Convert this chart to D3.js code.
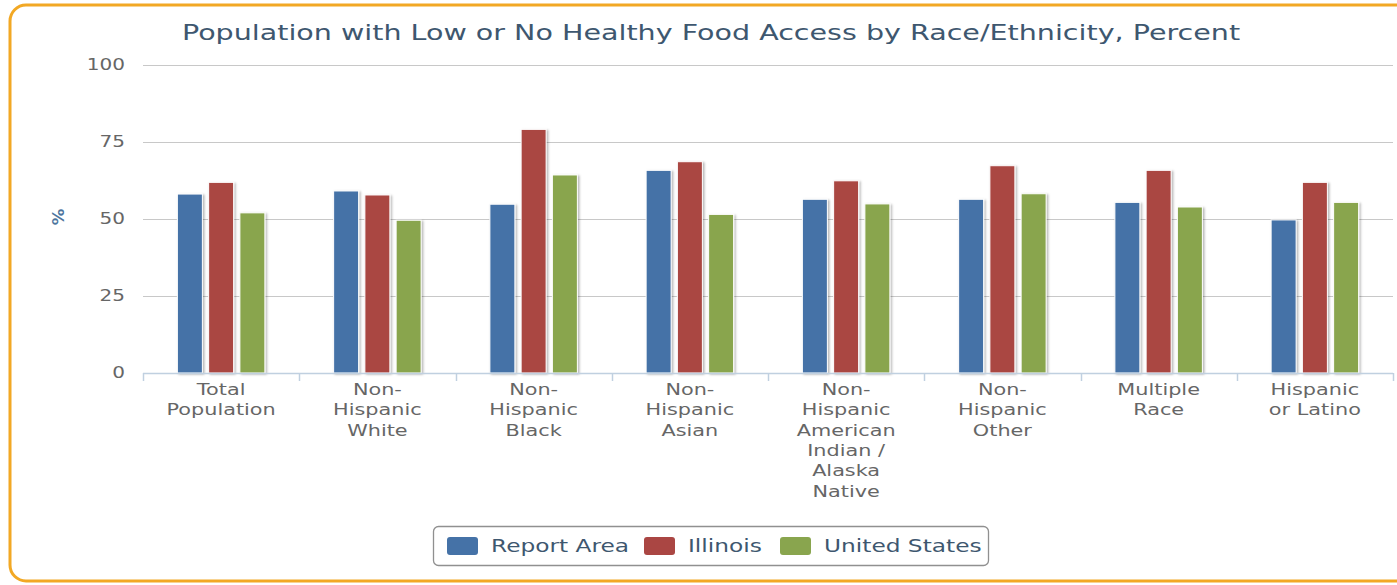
<!DOCTYPE html>
<html>
<head>
<meta charset="utf-8">
<script src="https://cdn.jsdelivr.net/npm/d3@7"></script>
<style>
  html, body { margin: 0; padding: 0; background: #fff; }
  svg { display: block; font-family: "DejaVu Sans", Verdana, sans-serif; }
</style>
</head>
<body>
<svg id="chart" width="1397" height="585"></svg>
<script>
/******************************************************************************/
/** data */

var title = 'Population with Low or No Healthy Food Access by Race/Ethnicity, Percent';
var categories = ['Total Population', 'Non-Hispanic White', 'Non-Hispanic Black', 'Non-Hispanic Asian',
  'Non-Hispanic American Indian / Alaska Native', 'Non-Hispanic Other', 'Multiple Race', 'Hispanic or Latino'];
var categoryLines = [
  ['Total', 'Population'],
  ['Non-', 'Hispanic', 'White'],
  ['Non-', 'Hispanic', 'Black'],
  ['Non-', 'Hispanic', 'Asian'],
  ['Non-', 'Hispanic', 'American', 'Indian /', 'Alaska', 'Native'],
  ['Non-', 'Hispanic', 'Other'],
  ['Multiple', 'Race'],
  ['Hispanic', 'or Latino']
];
var seriesNames = ['Report Area', 'Illinois', 'United States'];
var seriesColors = ['#4572A7', '#AA4643', '#89A54E'];
var reportArea   = [58.1, 59.1, 54.8, 65.8, 56.4, 56.4, 55.4, 49.7];
var illinois     = [61.9, 57.8, 79.1, 68.6, 62.4, 67.3, 65.8, 61.9];
var unitedStates = [52.0, 49.6, 64.3, 51.5, 54.9, 58.2, 53.9, 55.4];
var yTicks = [0, 25, 50, 75, 100];

var series = [reportArea, illinois, unitedStates];

/******************************************************************************/
/** layout */

var plot = { left: 143, right: 1393, top: 65, bottom: 373 };

var svg = d3.select('#chart');

var defs = svg.append('defs');
var f = defs.append('filter').attr('id', 'shadow').attr('x', '-20%').attr('y', '-5%').attr('width', '150%').attr('height', '110%');
f.append('feDropShadow').attr('dx', 1.5).attr('dy', 1).attr('stdDeviation', 1.2).attr('flood-color', '#000').attr('flood-opacity', 0.3);

// the screenshot is stretched sideways, so text gets a horizontal scale too
function stext(g, x, y, str, sx){
  return g.append('text').attr('transform', 'translate(' + x + ',' + y + ') scale(' + sx + ',1)').text(str);
}

// outer orange frame
svg.append('rect')
  .attr('x', 10).attr('y', 5).attr('width', 1440).attr('height', 576)
  .attr('rx', 16).attr('ry', 16)
  .style('fill', '#fff').style('stroke', '#F2A824').style('stroke-width', 3);

// title
stext(svg, 711, 40, title, 1.36)
  .attr('text-anchor', 'middle').style('font-size', '21px').style('fill', '#3E576F');

/******************************************************************************/
/** scales */

var x0 = d3.scaleBand().domain(d3.range(categories.length)).range([plot.left, plot.right]);
var bw = x0.bandwidth();
var x1 = d3.scaleBand().domain(d3.range(series.length))
  .range([0.2 * bw, 0.8 * bw]).paddingInner(0.2).paddingOuter(0.1);
var y = d3.scaleLinear().domain([0, 100]).range([plot.bottom, plot.top]);

// grid
var grid = svg.append('g');
grid.selectAll('line').data(yTicks.filter(function(d){ return d > 0; })).enter().append('line')
  .attr('x1', plot.left).attr('x2', plot.right)
  .attr('y1', function(d){ return Math.round(y(d)) + 0.5; }).attr('y2', function(d){ return Math.round(y(d)) + 0.5; })
  .style('stroke', '#C8C8C8').style('stroke-width', 1.2);

// y labels
var yl = svg.append('g').style('font-size', '16px').style('fill', '#666');
yTicks.forEach(function(t){
  stext(yl, 125, y(t) + 5, t, 1.25).attr('text-anchor', 'end');
});

// y title
svg.append('text').attr('transform', 'translate(64,217) rotate(-90) scale(1.1,1)')
  .attr('text-anchor', 'middle').style('font-size', '15px').style('font-weight', 'bold').style('fill', '#4d759e').text('%');

/******************************************************************************/
/** bars */

var groups = svg.selectAll('g.cat').data(categories).enter().append('g').attr('class', 'cat')
  .attr('transform', function(d, i){ return 'translate(' + x0(i) + ',0)'; });

groups.selectAll('rect').data(function(d, i){ return series.map(function(s, j){ return { s: j, v: s[i] }; }); })
  .enter().append('rect')
  .attr('x', function(d){ return x1(d.s); })
  .attr('width', x1.bandwidth())
  .attr('y', function(d){ return y(d.v); })
  .attr('height', function(d){ return plot.bottom - y(d.v); })
  .attr('filter', 'url(#shadow)')
  .style('fill', function(d){ return seriesColors[d.s]; })
  .style('stroke', '#fff').style('stroke-width', 1);

// x axis line + ticks
svg.append('line').attr('x1', plot.left).attr('x2', plot.right).attr('y1', plot.bottom + 0.5).attr('y2', plot.bottom + 0.5)
  .style('stroke', '#C0D0E0').style('stroke-width', 1.5);
svg.append('g').selectAll('line').data(d3.range(categories.length + 1)).enter().append('line')
  .attr('x1', function(i){ return Math.round(plot.left + i * bw) + 0.5; })
  .attr('x2', function(i){ return Math.round(plot.left + i * bw) + 0.5; })
  .attr('y1', plot.bottom).attr('y2', plot.bottom + 8)
  .style('stroke', '#C0D0E0').style('stroke-width', 1.5);

// x labels
var xl = svg.append('g').style('font-size', '16px').style('fill', '#666');
categoryLines.forEach(function(lines, i){
  lines.forEach(function(l, k){
    stext(xl, x0(i) + bw / 2, 395 + k * 20.3, l, 1.3).attr('text-anchor', 'middle');
  });
});

/******************************************************************************/
/** legend */

var legend = svg.append('g');
legend.append('rect').attr('x', 433.5).attr('y', 526.5).attr('width', 555).attr('height', 39).attr('rx', 5)
  .style('fill', '#fff').style('stroke', '#909090').style('stroke-width', 1.3);
var legX = [447, 644, 780];
seriesNames.forEach(function(n, i){
  legend.append('rect').attr('x', legX[i]).attr('y', 537).attr('width', 31).attr('height', 18).attr('rx', 3)
    .style('fill', seriesColors[i]);
  stext(legend, legX[i] + 44, 552, n, 1.37).style('font-size', '17px').style('fill', '#3E576F');
});
</script>
</body>
</html>
